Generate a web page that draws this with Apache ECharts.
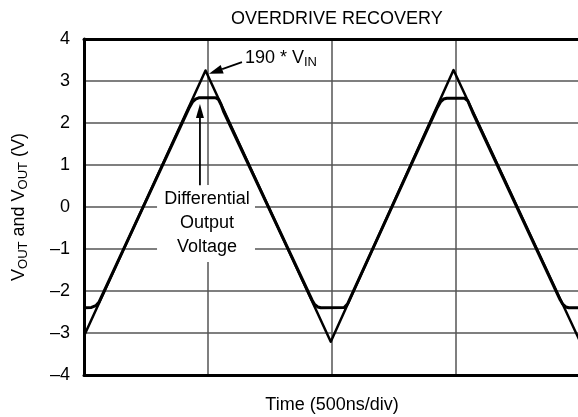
<!DOCTYPE html>
<html><head><meta charset="utf-8">
<script src="https://cdn.jsdelivr.net/npm/echarts@6/dist/echarts.min.js"></script>
<style>html,body{margin:0;padding:0;background:#fff}#c{width:578px;height:417px}</style>
</head><body><div id="c"></div>
<script>
// time in divisions (500 ns/div), values in volts
const vinTime   = [0, 0.98, 1.99, 2.98, 4.0];
const vinValues = [-3.07, 3.25, -3.21, 3.26, -3.2];

const diffTime = [0, 0.06, 0.095, 0.12,
  0.85, 0.875, 0.90, 0.925, 1.06, 1.085, 1.105, 1.125,
  1.84, 1.86, 1.885, 1.91, 2.10, 2.125, 2.145,
  2.85, 2.875, 2.90, 2.925, 3.07, 3.095, 3.115, 3.135,
  3.84, 3.86, 3.885, 3.91, 4.0];
const diffValues = [-2.40, -2.39, -2.35, -2.27,
  2.37, 2.50, 2.57, 2.60, 2.60, 2.56, 2.44, 2.28,
  -2.22, -2.32, -2.38, -2.40, -2.39, -2.31, -2.18,
  2.37, 2.50, 2.57, 2.59, 2.59, 2.53, 2.39, 2.25,
  -2.21, -2.31, -2.38, -2.40, -2.40];

const yTickValues = [-4, -3, -2, -1, 0, 1, 2, 3, 4];
const yTickLabels = ['\u20134', '\u20133', '\u20132', '\u20131', '0', '1', '2', '3', '4'];

const titleText = 'OVERDRIVE RECOVERY';
const xAxisName = 'Time (500ns/div)';
const vinLabel = ['190 * V', 'IN'];
const diffLabel = 'Differential\nOutput\nVoltage';

const FONT = '"Liberation Sans", Arial, sans-serif';
const zip = (xs, ys) => xs.map((x, i) => [x, ys[i]]);

const chart = echarts.init(document.getElementById('c'), null, {renderer: 'canvas'});
const subRich = {
  m: {fontSize: 18, fontFamily: FONT, color: '#000', lineHeight: 20, verticalAlign: 'top'},
  s: {fontSize: 13, fontFamily: FONT, color: '#000', lineHeight: 10, verticalAlign: 'bottom'}
};

chart.setOption({
  animation: false,
  backgroundColor: '#fff',
  title: {
    text: titleText, left: 226, top: 5,
    textStyle: {fontSize: 18, fontWeight: 'normal', fontFamily: FONT, color: '#000'}
  },
  grid: {left: 84, top: 39, right: -2, bottom: 42, containLabel: false, outerBoundsMode: 'none'},
  xAxis: [{
    type: 'value', min: 0, max: 4, interval: 1, position: 'bottom',
    name: xAxisName, nameLocation: 'middle', nameGap: 21,
    nameTextStyle: {fontSize: 18, fontFamily: FONT, color: '#000'},
    axisLine: {show: true, onZero: false, lineStyle: {color: '#000', width: 3}},
    axisTick: {show: false}, axisLabel: {show: false},
    splitLine: {show: true, lineStyle: {color: '#555', width: 1.5}}
  }, {
    type: 'value', min: 0, max: 4, interval: 1, position: 'top',
    axisLine: {show: true, onZero: false, lineStyle: {color: '#000', width: 3}},
    axisTick: {show: false}, axisLabel: {show: false}, splitLine: {show: false}
  }],
  yAxis: {
    type: 'value', min: -4, max: 4, interval: 1,
    name: '{m|V}{s|OUT}{m| and V}{s|OUT}{m| (V)}',
    nameLocation: 'middle', nameGap: 54, nameRotate: 90,
    nameTextStyle: {rich: subRich},
    axisLine: {show: true, onZero: false, lineStyle: {color: '#000', width: 3}},
    axisTick: {show: false},
    axisLabel: {
      margin: 14, fontSize: 18, fontFamily: FONT, color: '#000',
      formatter: v => yTickLabels[yTickValues.indexOf(Math.round(v))]
    },
    splitLine: {show: true, lineStyle: {color: '#555', width: 1.5}}
  },
  series: [{
    type: 'line', name: '190 * VIN', data: zip(vinTime, vinValues), z: 5,
    showSymbol: false, symbol: 'none',
    lineStyle: {color: '#000', width: 2.5, join: 'round'}
  }, {
    type: 'line', name: 'Differential Output Voltage', data: zip(diffTime, diffValues), z: 5,
    showSymbol: false, symbol: 'none',
    lineStyle: {color: '#000', width: 3, join: 'round'}
  }]
});

const P = (x, y) => chart.convertToPixel({gridIndex: 0}, [x, y]);
function arrow(from, to, len, half) {
  const dx = to[0] - from[0], dy = to[1] - from[1];
  const L = Math.hypot(dx, dy), ux = dx / L, uy = dy / L;
  const bx = to[0] - ux * len, by = to[1] - uy * len;
  return [
    {type: 'line', z: 6, shape: {x1: from[0], y1: from[1], x2: bx, y2: by}, style: {stroke: '#000', lineWidth: 1.8}},
    {type: 'polygon', z: 6, shape: {points: [to, [bx - uy * half, by + ux * half], [bx + uy * half, by - ux * half]]}, style: {fill: '#000'}}
  ];
}
const r1 = P(0.589, 0.524), r2 = P(1.379, -1.31);
const vinTxt = P(1.298, 3.52);
const diffTxt = P(0.992, -0.38);
const elements = [
  {type: 'rect', z: 1, shape: {x: r1[0], y: r1[1], width: r2[0] - r1[0], height: r2[1] - r1[1]}, style: {fill: '#fff'}},
  {type: 'text', z: 6, x: vinTxt[0], y: vinTxt[1],
   style: {text: '{m|' + vinLabel[0] + '}{s|' + vinLabel[1] + '}', rich: subRich, align: 'left', verticalAlign: 'middle'}},
  {type: 'text', z: 6, x: diffTxt[0], y: diffTxt[1],
   style: {text: diffLabel, fontSize: 18, fontFamily: FONT, fill: '#000', lineHeight: 24, align: 'center', verticalAlign: 'middle'}}
].concat(arrow(P(1.274, 3.45), P(1.008, 3.17), 14, 4.5))
 .concat(arrow(P(0.935, 0.52), P(0.935, 2.45), 14, 4));
chart.setOption({graphic: {elements: elements}});
</script>
</body></html>
